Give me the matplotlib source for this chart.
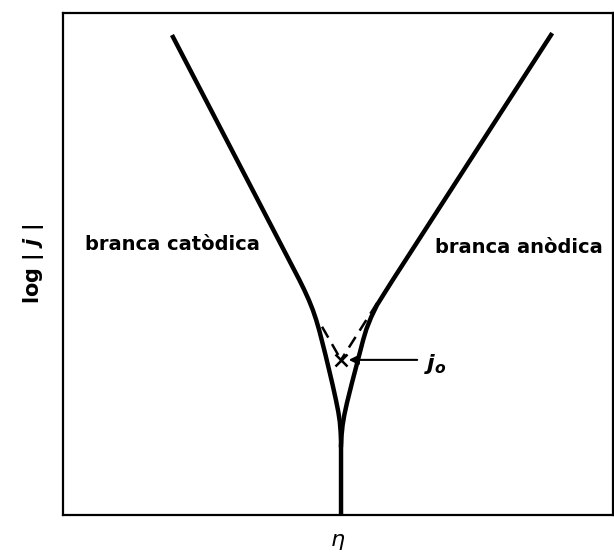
import matplotlib.pyplot as plt

# punts llegits de la figura (eta arbitraria, log|j| en decades)
cat_eta = [-0.611, -0.1513, -0.1335, -0.1171, -0.1025, -0.0902, -0.0796, -0.0702,
           -0.0564, -0.0433, -0.0305, -0.0185, -0.0098, -0.0044, -0.0015, 0.0, 0.0]
cat_logj = [9.522, 4.681, 4.482, 4.283, 4.084, 3.884, 3.685, 3.486,
            3.187, 2.888, 2.590, 2.291, 2.052, 1.853, 1.653, 1.454, 0.0]

an_eta = [0.7636, 0.1880, 0.1582, 0.1309, 0.1098, 0.0924, 0.0804, 0.0615,
          0.0396, 0.0215, 0.0120, 0.0058, 0.0022, 0.0]
an_logj = [9.562, 4.681, 4.422, 4.183, 3.944, 3.705, 3.486, 3.088,
           2.629, 2.231, 1.992, 1.793, 1.594, 1.394]

# rectes de Tafel extrapolades fins a j0
tafel_cat_eta = [-0.069, 0.0]
tafel_cat_logj = [3.75, 3.09]
tafel_an_eta = [0.131, 0.0]
tafel_an_logj = [4.22, 3.09]

eta0, logj0 = 0.0, 3.09

fig = plt.figure(figsize=(6.14, 5.55), dpi=100)
ax = fig.add_axes([63 / 614, 40 / 555, 550 / 614, 502 / 555])

ax.plot(cat_eta, cat_logj, color="black", lw=3.2, solid_joinstyle="round")
ax.plot(an_eta, an_logj, color="black", lw=3.2, solid_joinstyle="round")
ax.plot(tafel_cat_eta, tafel_cat_logj, color="black", lw=1.8, dashes=(5, 3))
ax.plot(tafel_an_eta, tafel_an_logj, color="black", lw=1.8, dashes=(5, 3))
ax.plot([eta0], [logj0], marker="x", color="black", ms=9, mew=1.8)

ax.annotate("", xy=(0.018, logj0), xytext=(0.287, logj0),
            arrowprops=dict(arrowstyle="-|>", color="black", lw=1.5,
                            mutation_scale=14))
ax.text(0.30, 3.0, r"$\boldsymbol{j}_{\boldsymbol{o}}$", fontsize=16,
        ha="left", va="center")

ax.text(-0.931, 5.38, "branca catòdica", fontsize=14, fontweight="bold",
        ha="left", va="center")
ax.text(0.342, 5.32, "branca anòdica", fontsize=14, fontweight="bold",
        ha="left", va="center")

ax.set_xlim(-1.011, 0.989)
ax.set_ylim(0, 10)
ax.set_xticks([])
ax.set_yticks([])
for s in ax.spines.values():
    s.set_linewidth(1.6)

ax.set_ylabel("log | $\\boldsymbol{j}$ |", fontsize=15, fontweight="bold", labelpad=12)
ax.set_xlabel("$\\eta$", fontsize=16, labelpad=12)

fig.savefig("out.png", dpi=100)
